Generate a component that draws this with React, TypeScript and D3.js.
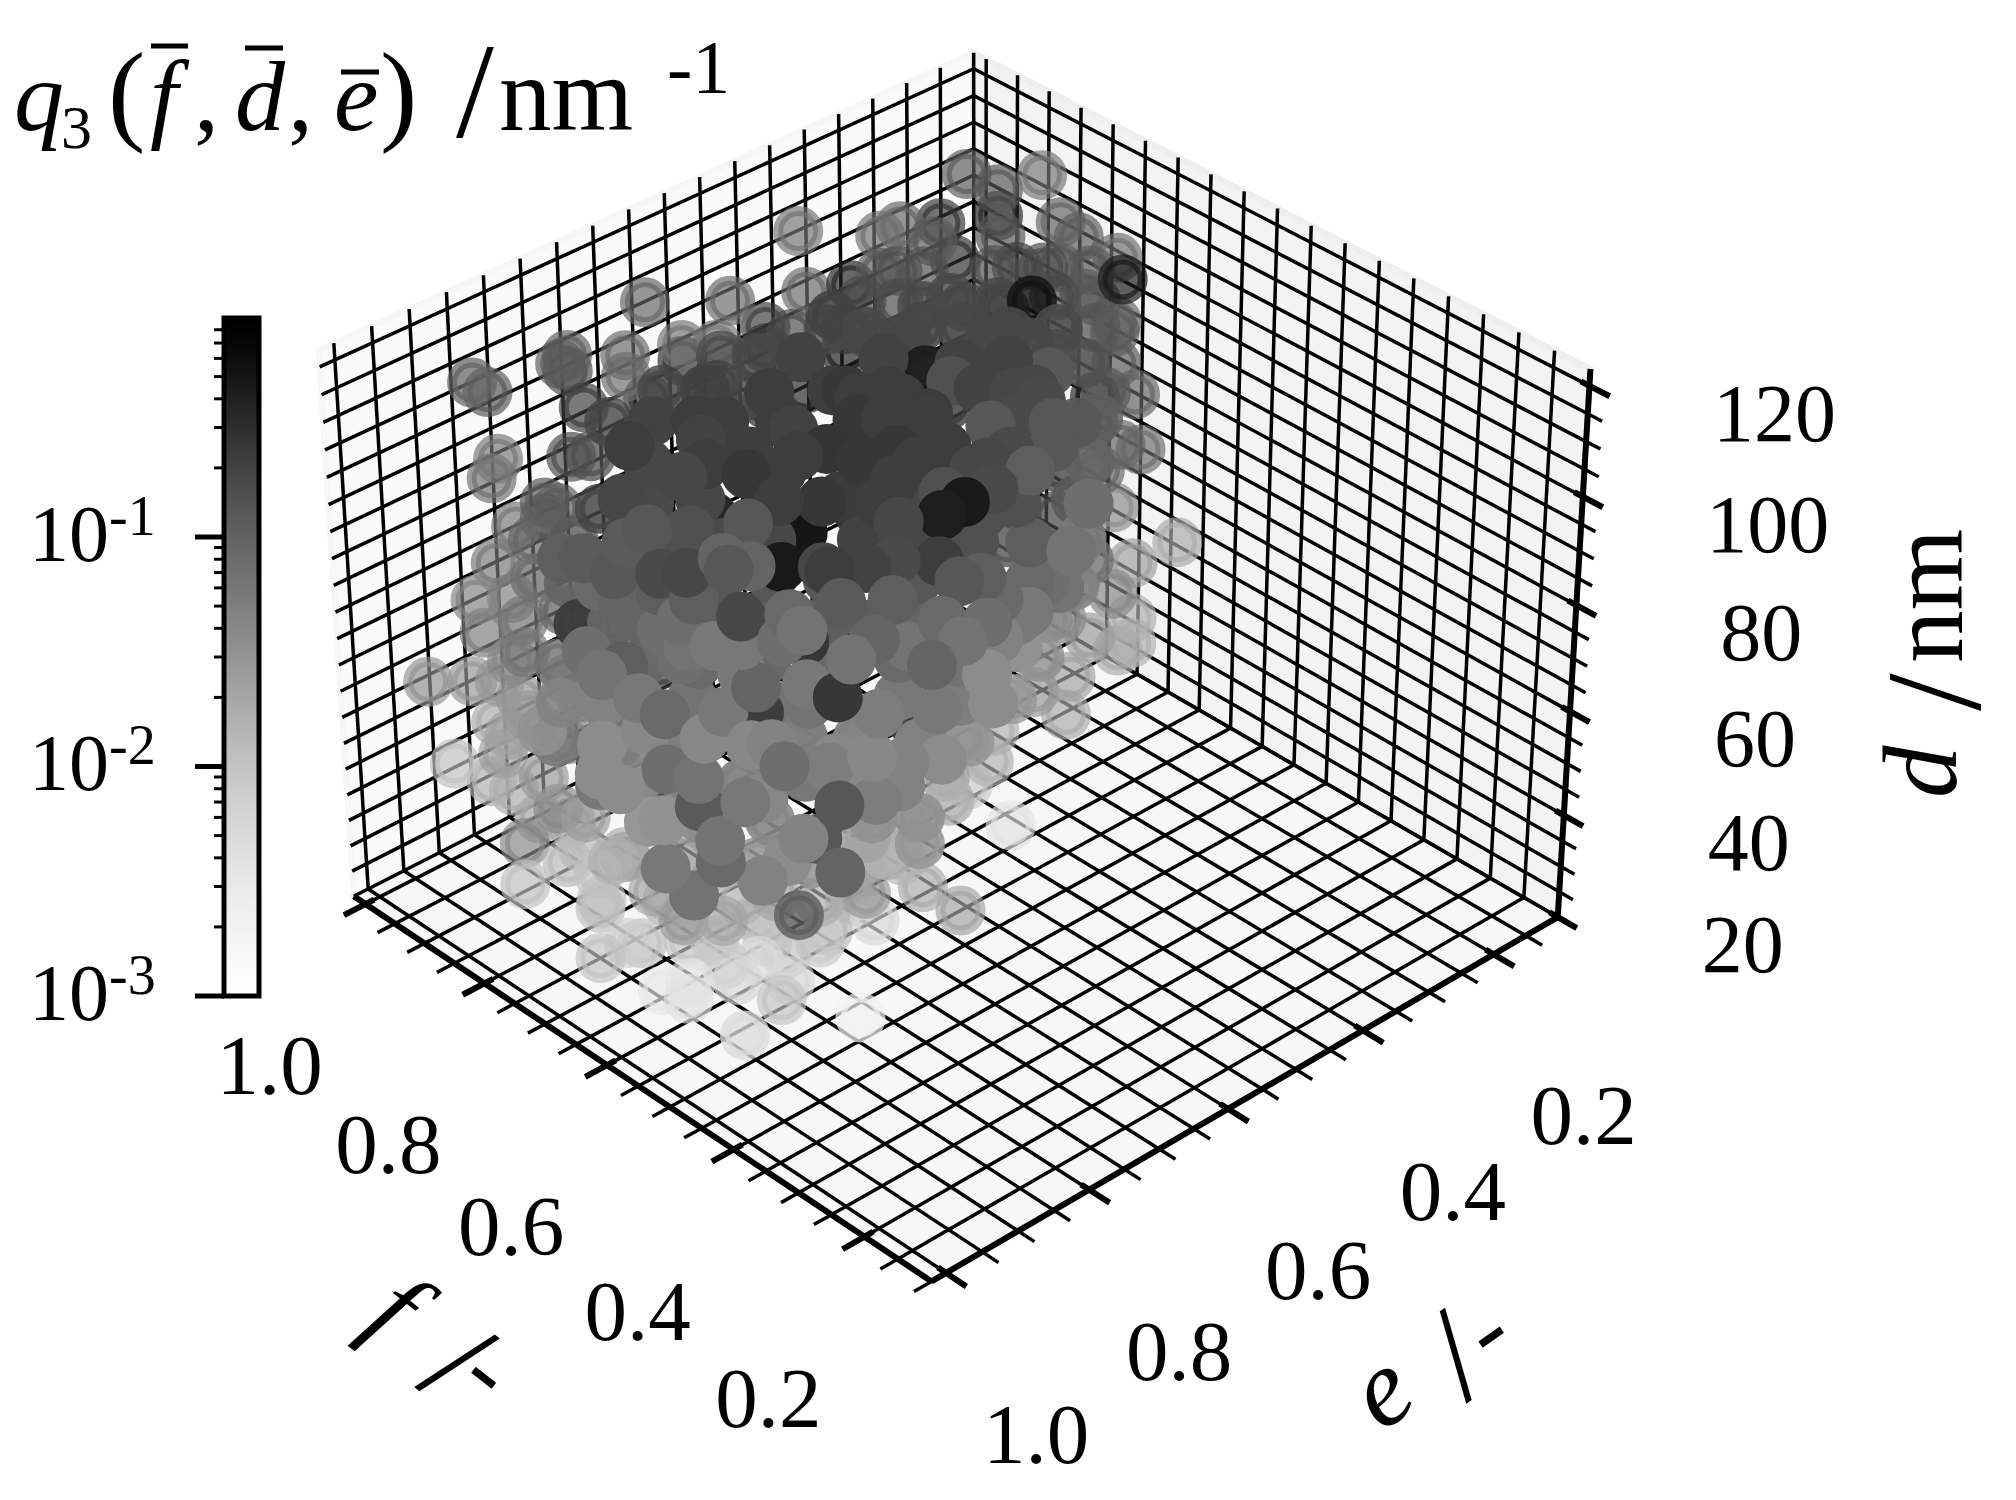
import React from "react";
import * as d3 from "d3";

const fPct = [
101,101,101,101,101,101,101,101,101,101,101,101,101,101,101,101,101,101,93,76,65,84,81,101,101,66,57,57,101,90,97,97,101,101,101,89,87,75,59,78,
67,97,78,81,79,72,49,78,69,75,64,58,53,47,61,50,78,78,71,59,57,54,52,47,44,44,40,67,56,63,84,62,39,66,101,101,100,82,59,58,
54,64,47,50,53,55,57,49,36,63,101,101,101,101,101,74,50,46,50,47,38,50,62,85,88,61,78,32,48,29,36,46,50,41,38,101,101,85,62,95,
76,77,88,60,32,50,53,37,101,63,44,47,33,101,41,35,36,35,38,35,53,53,53,29,52,24,33,35,30,27,21,20,32,29,72,68,75,72,75,75,
67,49,55,22,16,24,20,42,49,24,60,34,50,61,71,28,58,33,26,31,28,63,65,24,24,36,44,44,61,55,63,72,48,58,62,60,48,47,97,101,
86,63,91,79,45,53,38,86,53,42,42,51,46,53,42,43,79,67,64,75,82,74,71,65,62,56,63,54,92,87,63,66,75,57,45,41,44,38,42,46,
35,54,62,75,56,68,95,32,37,29,25,23,17,29,35,39,46,47,39,40,43,45,48,42,32,31,38,41,33,45,31,47,49,65,69,59,61,86,95,72,
62,66,53,53,44,51,52,54,39,69,64,74];
const ePct = [
83,81,70,71,70,59,62,62,54,54,47,37,42,42,49,36,68,59,56,67,83,57,54,80,70,91,83,77,12,11,11,11,22,25,16,25,11,29,42,11,
21,33,11,17,15,26,49,11,23,11,55,58,59,56,52,65,51,51,59,68,68,71,77,72,68,62,57,21,51,48,38,43,58,51,81,74,73,82,98,91,
86,82,92,97,100,101,76,86,92,100,78,81,84,79,83,92,101,101,101,101,101,101,99,85,88,97,78,100,84,101,101,92,101,101,101,91,85,85,99,86,
94,95,88,101,101,101,101,101,88,99,101,101,97,82,80,77,73,70,74,65,44,44,72,83,52,82,89,92,95,91,90,85,68,65,17,11,11,17,11,11,
21,49,37,101,96,101,85,60,68,88,51,71,50,34,25,92,49,79,90,96,93,63,65,101,101,82,72,72,56,56,41,39,76,67,69,64,77,74,82,80,
86,99,87,79,101,99,101,77,99,101,101,97,92,81,88,89,79,85,82,90,84,85,81,81,75,81,88,88,78,80,78,89,93,101,101,97,98,101,101,101,
100,101,99,94,101,96,86,86,81,75,84,97,91,75,63,57,46,47,64,67,76,84,87,99,101,86,93,96,88,101,95,65,86,63,73,96,98,77,77,35,
85,57,53,48,55,41,83,65,69,23,27,11];
const dVals = [
106,103,103,102,100,106,98,94,95,92,99,106,91,87,92,94,92,88,94,110,123,97,100,90,84,123,123,123,102,108,101,96,98,98,95,101,101,111,123,100,
109,96,88,100,95,95,121,80,87,76,121,121,123,123,109,123,107,111,123,123,123,123,123,123,123,123,123,78,123,123,110,120,120,123,87,75,77,95,123,123,
123,106,123,123,123,120,104,110,123,111,76,71,66,63,59,86,118,121,115,112,119,108,106,76,68,91,66,123,96,123,108,90,93,100,109,55,51,63,90,42,
64,66,56,80,97,83,88,97,37,71,93,105,108,41,123,123,122,123,123,123,98,89,108,123,90,123,123,123,123,123,123,120,102,113,60,52,43,43,32,27,
38,76,60,123,123,115,111,83,69,104,47,86,62,46,25,103,42,82,115,94,96,72,69,96,84,77,58,53,20,20,20,20,54,29,20,20,20,50,20,26,
38,69,20,38,80,70,86,22,61,72,76,56,59,39,67,67,22,30,30,20,20,20,20,20,20,20,20,20,20,20,20,20,98,113,117,123,123,114,111,108,
98,93,85,72,109,88,56,123,123,111,123,123,123,104,102,94,87,98,123,113,123,123,123,123,119,88,85,81,81,85,95,54,56,20,20,63,69,23,22,28,
123,120,123,123,123,105,123,123,123,100,79,66];
const qVals = [
9.4e-2,1.3e-1,1.1e-1,1.2e-1,1.8e-1,9.4e-2,8.4e-2,7.4e-2,6.6e-2,3.4e-1,8.4e-2,6.6e-2,2.2e-1,3.7e-1,5.8e-2,8.4e-2,2.2e-1,2.7e-1,4.1e-1,1.7e-1,2.2e-1,3.7e-1,3.4e-1,5.8e-2,1.7e-1,2.2e-1,2.2e-1,2.0e-1,1.2e-1,5.8e-2,1.3e-1,3.7e-1,9.4e-2,7.4e-2,2.7e-1,3.0e-1,9.4e-2,2.2e-1,5.1e-1,7.4e-2,
4.6e-1,3.7e-1,9.4e-2,1.2e-1,1.3e-1,2.5e-1,1.3e-1,1.2e-1,3.4e-1,9.4e-2,1.8e-1,4.1e-1,1.5e-1,1.8e-1,2.2e-1,2.3e-1,4.1e-1,2.5e-1,2.0e-1,2.5e-1,2.2e-1,2.5e-1,2.6e-1,2.5e-1,2.2e-1,1.3e-1,1.3e-1,9.4e-2,1.8e-1,1.8e-1,1.5e-1,2.5e-1,1.3e-1,1.7e-1,7.4e-2,3.0e-1,1.2e-1,1.9e-1,1.8e-1,1.8e-1,
2.5e-1,3.4e-1,1.3e-1,1.5e-1,1.3e-1,1.2e-1,4.9e-1,4.6e-1,1.8e-1,1.2e-1,5.8e-2,5.8e-2,4.6e-2,4.6e-2,5.1e-2,2.2e-1,1.7e-1,1.8e-1,1.1e-1,7.4e-2,1.8e-1,7.4e-2,8.4e-2,9.4e-2,6.6e-2,1.1e-1,2.2e-1,8.4e-2,2.5e-1,6.6e-2,9.4e-2,2.2e-1,8.4e-2,5.8e-2,5.8e-2,3.2e-2,2.9e-2,5.1e-2,6.6e-2,2.5e-2,
5.8e-2,3.2e-2,2.9e-2,3.6e-2,7.4e-2,7.4e-2,4.1e-2,4.1e-2,1.1e-2,3.6e-2,4.1e-2,7.4e-2,5.8e-2,1.8e-2,2.2e-1,4.1e-1,4.6e-1,1.7e-1,1.5e-1,1.1e-1,2.0e-1,1.8e-1,2.7e-1,2.2e-1,1.3e-1,1.1e-1,2.0e-1,2.2e-1,1.2e-1,1.1e-1,8.4e-2,7.4e-2,5.8e-2,6.6e-2,3.6e-2,1.8e-2,2.3e-2,4.1e-2,1.6e-2,1.6e-2,
1.8e-2,4.6e-2,2.5e-2,6.6e-2,9.4e-2,2.5e-1,3.6e-2,3.2e-2,2.5e-1,5.8e-2,6.6e-2,3.6e-2,2.9e-2,2.3e-2,1.8e-2,5.1e-2,1.6e-2,3.6e-2,6.6e-2,5.1e-2,4.1e-2,3.4e-1,2.7e-1,1.3e-1,9.4e-2,4.6e-2,3.2e-2,2.9e-2,1.8e-2,2.1e-2,3.9e-3,8.6e-3,2.1e-2,2.9e-2,1.3e-2,5.5e-3,2.1e-3,1.6e-2,4.1e-2,1.8e-2,
4.1e-2,5.8e-2,1.1e-2,1.1e-1,1.2e-1,3.2e-2,5.8e-2,4.6e-2,5.8e-2,8.4e-2,6.6e-2,6.6e-2,4.6e-2,1.1e-1,1.3e-1,4.6e-2,2.1e-2,2.9e-2,2.1e-2,1.0e-2,1.1e-2,1.1e-2,1.0e-2,8.6e-3,1.0e-2,1.0e-2,3.9e-3,4.7e-3,1.3e-2,1.0e-2,4.7e-3,3.2e-3,1.1e-1,1.3e-1,1.1e-1,9.4e-2,9.4e-2,5.8e-2,5.8e-2,6.6e-2,
4.6e-2,5.8e-2,4.6e-2,4.6e-2,9.4e-2,7.4e-2,2.9e-2,1.7e-1,1.8e-1,8.4e-2,1.3e-1,9.4e-2,6.6e-2,4.6e-2,7.4e-2,6.6e-2,6.6e-2,1.2e-1,1.7e-1,1.5e-1,2.2e-1,2.5e-1,2.2e-1,1.3e-1,7.4e-2,4.6e-2,5.8e-2,4.1e-2,5.1e-2,6.6e-2,4.1e-2,1.6e-2,3.6e-2,1.6e-2,1.4e-2,2.9e-2,3.6e-2,1.8e-2,2.1e-2,1.6e-2,
2.0e-1,1.8e-1,1.8e-1,1.8e-1,1.7e-1,1.3e-1,2.2e-1,2.2e-1,1.8e-1,1.7e-1,9.4e-2,7.4e-2];

const fPctInner = [
86,86,80,90,82,72,73,74,82,74,66,62,63,69,82,75,67,63,60,56,53,63,83,75,67,61,55,52,51,82,
74,64,60,56,50,46,54,86,73,63,59,52,49,43,50,47,88,68,59,53,48,44,39,46,91,68,60,55,50,43,
37,41,92,84,68,58,55,48,44,40,36,42,87,79,69,59,55,51,44,36,42,88,71,64,59,56,51,47,44,42,
48,94,80,64,60,55,51,46,41,45,94,79,66,61,55,52,46,41,47,95,80,66,61,53,49,44,45,101,87,65,
61,57,50,46,52,98,79,60,55,48,55,91,82,67,56,52,53,60,83,78,67,60,61,64,75,69,65,61,65,62,58];
const ePctInner = [
31,21,15,35,36,35,27,19,45,47,47,44,35,23,55,56,58,54,51,48,44,26,64,66,67,61,56,52,42,73,
74,74,69,65,58,54,36,77,82,81,77,69,66,59,41,47,78,87,87,80,76,72,67,46,82,87,87,82,77,71,
65,51,83,84,86,86,82,76,72,68,64,51,87,89,88,87,82,78,72,64,52,88,90,92,87,83,78,75,72,60,
48,85,90,92,88,83,79,73,69,54,84,88,94,88,83,80,73,69,56,85,89,94,89,80,76,72,64,83,87,92,
89,85,78,73,61,79,88,88,83,75,64,81,82,85,84,80,72,60,83,78,77,78,71,63,86,79,75,71,86,82,78];
const dValsInner = [
110,105,105,104,110,116,111,105,110,116,122,122,117,105,110,116,122,123,123,123,123,105,111,117,123,123,123,123,117,111,
117,123,123,123,123,123,106,105,117,123,123,123,123,123,107,112,98,116,122,123,123,123,123,105,90,109,115,116,116,116,
116,104,83,89,102,108,108,109,109,109,109,97,82,88,95,101,101,101,102,102,89,74,87,94,94,94,94,94,94,88,
76,60,73,86,86,87,87,87,87,75,52,66,79,79,79,79,80,80,67,45,58,71,72,72,72,72,66,30,44,64,
64,64,65,65,52,22,43,57,57,57,44,20,28,42,49,49,43,29,20,20,28,35,28,20,20,20,20,20,20,20,20];
const qValsInner = [
1.2e-1,1.3e-1,1.1e-1,1.3e-1,1.5e-1,1.5e-1,1.7e-1,1.3e-1,1.7e-1,1.7e-1,1.7e-1,1.8e-1,1.7e-1,1.3e-1,1.7e-1,1.7e-1,1.8e-1,1.8e-1,1.8e-1,1.8e-1,1.7e-1,1.2e-1,1.7e-1,1.8e-1,2.0e-1,2.0e-1,2.0e-1,2.0e-1,1.5e-1,1.8e-1,
2.0e-1,2.2e-1,2.2e-1,2.2e-1,2.0e-1,1.8e-1,1.2e-1,1.8e-1,2.0e-1,2.2e-1,2.2e-1,2.2e-1,2.2e-1,1.7e-1,1.1e-1,1.3e-1,1.5e-1,1.8e-1,2.2e-1,2.2e-1,2.5e-1,2.2e-1,1.8e-1,9.4e-2,1.1e-1,1.7e-1,1.8e-1,2.2e-1,2.3e-1,1.8e-1,
1.5e-1,7.4e-2,9.4e-2,1.2e-1,1.5e-1,1.7e-1,1.8e-1,2.0e-1,1.8e-1,1.5e-1,1.1e-1,5.8e-2,7.4e-2,9.4e-2,1.2e-1,1.3e-1,1.3e-1,1.3e-1,1.3e-1,8.4e-2,4.6e-2,5.8e-2,9.4e-2,9.4e-2,1.1e-1,1.1e-1,1.1e-1,1.1e-1,9.4e-2,5.8e-2,
3.6e-2,4.1e-2,6.6e-2,8.4e-2,8.4e-2,8.4e-2,8.4e-2,8.4e-2,6.6e-2,3.2e-2,2.9e-2,5.1e-2,6.6e-2,6.6e-2,6.6e-2,6.6e-2,5.8e-2,5.1e-2,2.9e-2,2.3e-2,4.6e-2,5.1e-2,5.1e-2,5.1e-2,4.6e-2,4.6e-2,2.9e-2,1.6e-2,2.9e-2,4.1e-2,
4.6e-2,4.6e-2,4.1e-2,3.6e-2,2.3e-2,2.1e-2,2.5e-2,3.6e-2,4.1e-2,3.2e-2,2.1e-2,1.3e-2,1.6e-2,2.5e-2,2.9e-2,2.9e-2,2.1e-2,1.4e-2,1.0e-2,1.6e-2,1.6e-2,2.1e-2,1.8e-2,1.3e-2,7.5e-3,8.6e-3,1.0e-2,8.6e-3,3.9e-3,5.5e-3,5.5e-3];

const fTicks = [1.0, 0.8, 0.6, 0.4, 0.2];
const eTicks = [1.0, 0.8, 0.6, 0.4, 0.2];
const dTicks = [20, 40, 60, 80, 100, 120];
const barExp = [-1, -2, -3];
const barMinor = [-3, -2, -1].flatMap((x) => [2, 3, 4, 5, 6, 7, 8, 9].map((m) => m * 10 ** x));

const fLo = 0.1, fHi = 1.02, eLo = 0.1, eHi = 1.02, dLo = 20, dHi = 123;
const aS = d3.scaleLinear().domain([fHi, fLo]).range([0, 1]);
const bS = d3.scaleLinear().domain([eLo, eHi]).range([0, 1]);
const hS = d3.scaleLinear().domain([dLo, dHi]).range([0, 1]);
function project(f: number, e: number, d: number): [number, number] {
  const a = aS(f), b = bS(e), h = hS(d);
  const w = 1 - 0.0666 * a - 0.0617 * b - 0.05 * h;
  return [(974 + 480 * a - 642 * b - 49 * h) / w, (580 + 276 * a + 261 * b - 530 * h) / w];
}
const depth = (f: number, e: number, d: number) => 488 * (aS(f) + bS(e)) + 299 * hS(d);
const shade = d3.scaleLinear().domain([620, 790]).range([0.68, 1]).clamp(true);
const color = d3.scaleSequentialLog(d3.interpolateGreys).domain([1e-3, 0.8]).clamp(true);
const barY = d3.scaleLog().domain([1e-3, 0.9]).range([996, 318]);

const line3 = (pts: [number, number, number][]) => d3.line()(pts.map((p) => project(p[0], p[1], p[2])))!;
const poly3 = (pts: [number, number, number][]) => line3(pts) + "Z";

const stepF = d3.range(2, 21).map((i) => i * 0.05);
const stepD = d3.range(0, 21).map((i) => 20 + i * 5);
const isMaj = (v: number) => Math.abs(v * 5 - Math.round(v * 5)) < 1e-6;
const isMajD = (v: number) => v % 20 === 0;

const allF = fPct.concat(fPctInner), allE = ePct.concat(ePctInner), allD = dVals.concat(dValsInner), allQ = qVals.concat(qValsInner);
const points = allF.map((p, i) => {
  const f = p / 100, e = allE[i] / 100, d = allD[i], q = allQ[i];
  return { f, e, d, q, z: depth(f, e, d) };
}).sort((x, y) => x.z - y.z);

const serif = "'Liberation Serif', serif";

export default function App() {
  const grid: string[] = [];
  for (const v of stepF) {
    grid.push(line3([[fHi, v, dLo], [fHi, v, dHi]]));
    grid.push(line3([[v, eLo, dLo], [v, eLo, dHi]]));
    grid.push(line3([[v, eLo, dLo], [v, eHi, dLo]]));
    grid.push(line3([[fLo, v, dLo], [fHi, v, dLo]]));
  }
  for (const v of stepD) {
    grid.push(line3([[fHi, eLo, v], [fHi, eHi, v]]));
    grid.push(line3([[fLo, eLo, v], [fHi, eLo, v]]));
  }
  return (
    <svg width={2016} height={1500} style={{ position: "absolute", left: 0, top: 0, background: "#fff" }} fontFamily={serif}>
      <defs>
        <linearGradient id="bar" x1="0" y1="1" x2="0" y2="0">
          {d3.range(0, 1.001, 0.04).map((t) => (
            <stop key={t} offset={t} stopColor={color(1e-3 * Math.pow(900, t))} />
          ))}
        </linearGradient>
      </defs>
      <path d={poly3([[fHi, eHi, dLo], [fHi, eLo, dLo], [fHi, eLo, dHi], [fHi, eHi, dHi]])} fill="#fafafa" stroke="#f6f6f6" strokeWidth={6} />
      <path d={poly3([[fHi, eLo, dLo], [fLo, eLo, dLo], [fLo, eLo, dHi], [fHi, eLo, dHi]])} fill="#f3f3f3" stroke="#efefef" strokeWidth={6} />
      <path d={poly3([[fHi, eHi, dLo], [fLo, eHi, dLo], [fLo, eLo, dLo], [fHi, eLo, dLo]])} fill="#f7f7f7" stroke="#f2f2f2" strokeWidth={6} />
      <g fill="none" stroke="#000" strokeWidth={3.5}>
        {grid.map((g, i) => <path key={i} d={g} />)}
      </g>
      {stepF.map((v) => (
        <g key={"ft" + v} stroke="#000" fill="none" strokeWidth={isMaj(v) ? 6 : 3.5}>
          <path d={line3([[v, isMaj(v) ? eHi - 0.012 : eHi, dLo], [v, eHi + (isMaj(v) ? 0.03 : 0.024), dLo]])} />
          <path d={line3([[fLo - (isMaj(v) ? 0.03 : 0.024), v, dLo], [isMaj(v) ? fLo + 0.012 : fLo, v, dLo]])} />
        </g>
      ))}
      {stepD.map((v) => (
        <path key={"dt" + v} stroke="#000" fill="none" strokeWidth={isMajD(v) ? 6 : 3.5}
          d={line3([[fLo + (isMajD(v) ? 0.012 : 0), eLo, v], [fLo - (isMajD(v) ? 0.028 : 0.02), eLo, v]])} />
      ))}
      <g stroke="#000" fill="none" strokeWidth={6}>
        <path d={line3([[fHi, eHi, dLo], [fLo, eHi, dLo]])} />
        <path d={line3([[fLo, eHi, dLo], [fLo, eLo, dLo]])} />
        <path d={line3([[fLo, eLo, dLo], [fLo, eLo, dHi]])} />
      </g>
      {points.map((p, i) => {
        const [x, y] = project(p.f, p.e, p.d);
        const a = shade(p.z);
        return <circle key={i} cx={x} cy={y} r={20} fill={color(p.q)} fillOpacity={a} stroke={color(p.q)} strokeOpacity={a} strokeWidth={10} />;
      })}

      <rect x={224} y={318} width={35} height={678} fill="url(#bar)" stroke="#000" strokeWidth={5} />
      <g stroke="#000">
        {barMinor.filter((q) => q < 0.9).map((q) => <line key={q} x1={214} x2={224} y1={barY(q)} y2={barY(q)} strokeWidth={3} />)}
        {barExp.map((x) => <line key={x} x1={195} x2={224} y1={barY(10 ** x)} y2={barY(10 ** x)} strokeWidth={5} />)}
      </g>
      {barExp.map((x) => (
        <text key={x} x={29} y={barY(10 ** x) + 24} fontSize={80}>10<tspan fontSize={56} dy={-26}>{x}</tspan></text>
      ))}

      {fTicks.map((v) => {
        const [x, y] = project(v, eHi, dLo);
        return <text key={v} x={x - 96} y={y + 190} fontSize={85} textAnchor="middle">{v.toFixed(1)}</text>;
      })}
      {eTicks.map((v) => {
        const [x, y] = project(fLo, v, dLo);
        return <text key={v} x={x + 90} y={y + 190} fontSize={85} textAnchor="middle">{v.toFixed(1)}</text>;
      })}
      {dTicks.map((v) => {
        const [x, y] = project(fLo, eLo, v);
        return <text key={v} x={x + 185} y={y + 55} fontSize={82} textAnchor="middle">{v}</text>;
      })}

      <text x={14} y={130} fontSize={100} fontStyle="italic">q</text>
      <text x={61} y={148} fontSize={62}>3</text>
      <text x={108} y={130} fontSize={112}>(</text>
      <text x={150} y={130} fontSize={100} fontStyle="italic">f</text>
      <line x1={151} x2={188} y1={46} y2={46} stroke="#000" strokeWidth={5} />
      <text x={194} y={130} fontSize={100}>,</text>
      <text x={235} y={130} fontSize={100} fontStyle="italic">d</text>
      <line x1={245} x2={283} y1={48} y2={48} stroke="#000" strokeWidth={5} />
      <text x={288} y={130} fontSize={100}>,</text>
      <text x={334} y={130} fontSize={100} fontStyle="italic">e</text>
      <line x1={341} x2={379} y1={72} y2={72} stroke="#000" strokeWidth={5} />
      <text x={380} y={130} fontSize={112}>)</text>
      <text x={456} y={137} fontSize={136}>/</text>
      <text x={499} y={130} fontSize={105}>nm</text>
      <text x={667} y={93} fontSize={76}>-1</text>

      <text transform="translate(373,1336) rotate(38)" fontSize={110} fontStyle="italic" textAnchor="middle">f</text>
      <text transform="translate(415,1386) rotate(38)" fontSize={136}>/</text>
      <text transform="translate(456,1386) rotate(38)" fontSize={100}>-</text>

      <text transform="translate(1381,1433) rotate(-35)" fontSize={110} fontStyle="italic">e</text>
      <text transform="translate(1481,1392) rotate(-35)" fontSize={136} textAnchor="middle">/</text>
      <text transform="translate(1491,1366) rotate(-35)" fontSize={100}>-</text>

      <text transform="translate(1956,798) rotate(-90)" fontSize={105} fontStyle="italic">d</text>
      <text transform="translate(1980,711) rotate(-90)" fontSize={136}>/</text>
      <text transform="translate(1962,663) rotate(-90)" fontSize={105}>nm</text>
    </svg>
  );
}
